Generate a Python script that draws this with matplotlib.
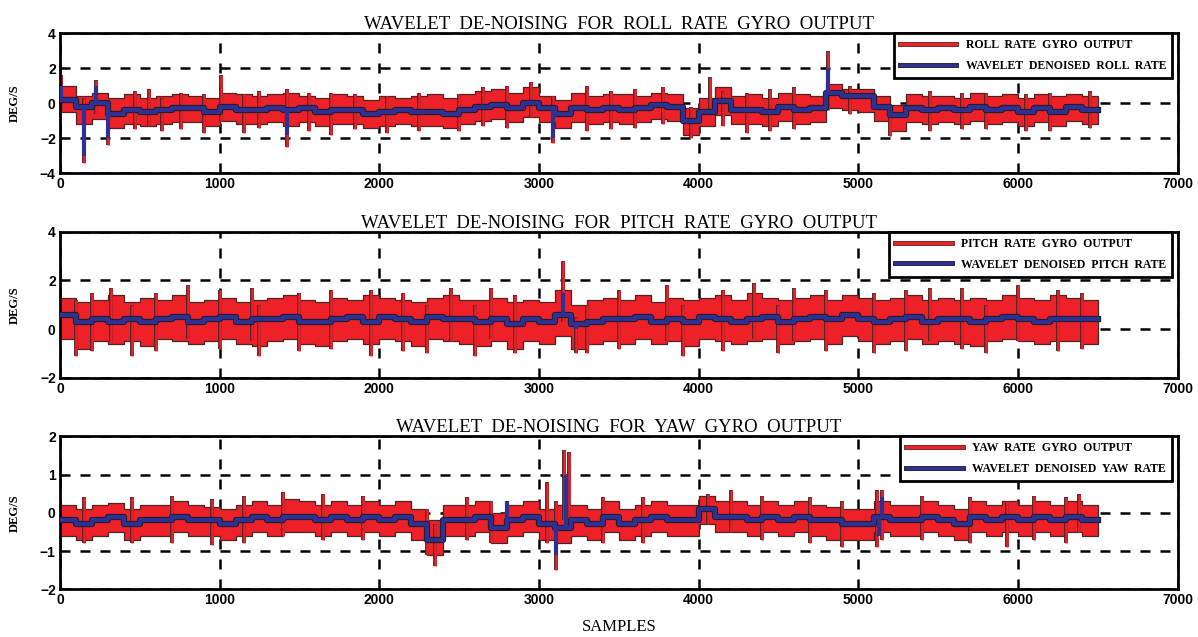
import numpy as np
import matplotlib
matplotlib.use('Agg')
import matplotlib.pyplot as plt
import matplotlib.patheffects as pe
from matplotlib.lines import Line2D

# samples are grouped in bins of 100 (deg/s)
samples = np.arange(0, 6500, 100)

roll_dn = [0.2, -0.2, 0.0, -0.6, -0.4, -0.5, -0.4, -0.3, -0.3, -0.5,
           -0.2, -0.4, -0.4, -0.3, -0.4, -0.3, -0.5, -0.4, -0.4, -0.6,
           -0.5, -0.4, -0.5, -0.5, -0.6, -0.4, -0.2, -0.1, -0.3, 0.0,
           -0.3, -0.6, -0.3, -0.4, -0.3, -0.4, -0.3, -0.1, -0.2, -1.0,
           -0.5, 0.1, -0.4, -0.4, -0.5, -0.2, -0.4, -0.3, 0.6, 0.4,
           0.4, -0.2, -0.7, -0.3, -0.4, -0.3, -0.4, -0.2, -0.4, -0.3,
           -0.5, -0.3, -0.5, -0.2, -0.4]
roll_hi = [1.0, 0.4, 0.6, 0.3, 0.5, 0.3, 0.4, 0.5, 0.4, 0.3,
           0.6, 0.5, 0.4, 0.5, 0.6, 0.4, 0.3, 0.5, 0.4, 0.2,
           0.4, 0.3, 0.4, 0.5, 0.3, 0.5, 0.7, 0.8, 0.6, 0.9,
           0.4, 0.2, 0.6, 0.4, 0.5, 0.5, 0.4, 0.6, 0.5, -0.3,
           0.3, 0.9, 0.4, 0.5, 0.3, 0.6, 0.5, 0.4, 1.1, 0.8,
           0.8, 0.4, -0.1, 0.5, 0.4, 0.4, 0.3, 0.6, 0.4, 0.5,
           0.3, 0.5, 0.4, 0.5, 0.4]
roll_lo = [-0.5, -1.2, -0.9, -1.4, -1.2, -1.3, -1.2, -1.1, -1.1, -1.3,
           -1.0, -1.2, -1.2, -1.1, -1.3, -1.1, -1.3, -1.2, -1.2, -1.4,
           -1.3, -1.2, -1.3, -1.3, -1.4, -1.2, -1.0, -0.9, -1.1, -0.8,
           -1.1, -1.4, -1.1, -1.2, -1.1, -1.2, -1.1, -0.9, -1.0, -1.8,
           -1.3, -0.7, -1.2, -1.2, -1.3, -1.0, -1.2, -1.1, -0.3, -0.4,
           -0.5, -1.0, -1.6, -1.1, -1.2, -1.1, -1.2, -1.0, -1.2, -1.1,
           -1.3, -1.1, -1.3, -1.0, -1.2]
roll_spk_x = [10, 150, 225, 300, 470, 560, 640, 760, 900, 1010,
              1150, 1250, 1420, 1560, 1700, 1850, 2050, 2250, 2500, 2650,
              2800, 2950, 3090, 3300, 3450, 3600, 3780, 3950, 4070, 4150,
              4300, 4450, 4600, 4810, 4950, 5200, 5450, 5650, 5800, 6050,
              6200, 6450]
roll_spk_lo = [-0.5, -3.4, -0.6, -2.4, -1.5, -1.3, -1.6, -1.5, -1.7, -1.0,
               -1.7, -1.4, -2.5, -1.6, -1.8, -1.5, -1.7, -1.6, -1.6, -1.3,
               -1.4, -0.8, -2.3, -1.6, -1.5, -1.4, -1.2, -2.0, -0.6, -1.3,
               -1.7, -1.6, -1.5, -0.4, -0.6, -1.9, -1.6, -1.5, -1.5, -1.6,
               -1.6, -1.4]
roll_spk_hi = [1.6, 0.3, 1.3, 0.2, 0.7, 0.8, 0.3, 0.6, 0.5, 1.6,
               0.5, 0.7, 0.8, 0.6, 0.6, 0.5, 0.4, 0.6, 0.5, 0.9,
               1.0, 1.2, 0.4, 1.0, 0.7, 0.8, 0.9, -0.2, 1.5, 0.7,
               0.6, 0.8, 0.9, 3.0, 1.0, -0.3, 0.7, 0.6, 0.6, 0.5,
               0.6, 0.7]
roll_dn_spk_x = [10, 150, 225, 300, 1420, 3090, 4810]
roll_dn_spk_y = [1.0, -3.0, 1.0, -2.0, -1.8, -2.0, 2.0]

pitch_dn = [0.6, 0.3, 0.4, 0.3, 0.4, 0.3, 0.4, 0.5, 0.3, 0.4,
            0.5, 0.3, 0.4, 0.4, 0.5, 0.3, 0.3, 0.4, 0.5, 0.3,
            0.5, 0.4, 0.3, 0.5, 0.4, 0.4, 0.3, 0.4, 0.2, 0.4,
            0.3, 0.6, 0.2, 0.3, 0.4, 0.4, 0.5, 0.3, 0.4, 0.3,
            0.5, 0.4, 0.3, 0.4, 0.5, 0.3, 0.4, 0.5, 0.4, 0.6,
            0.4, 0.3, 0.4, 0.5, 0.3, 0.4, 0.4, 0.3, 0.4, 0.5,
            0.4, 0.3, 0.4, 0.4, 0.4]
pitch_hi = [1.3, 1.1, 1.2, 1.4, 1.1, 1.3, 1.2, 1.4, 1.1, 1.2,
            1.3, 1.1, 1.2, 1.3, 1.4, 1.2, 1.1, 1.3, 1.2, 1.4,
            1.3, 1.2, 1.1, 1.3, 1.4, 1.2, 1.2, 1.3, 1.1, 1.2,
            1.1, 1.6, 1.0, 1.2, 1.3, 1.2, 1.4, 1.1, 1.3, 1.2,
            1.3, 1.4, 1.2, 1.5, 1.3, 1.2, 1.3, 1.4, 1.2, 1.4,
            1.3, 1.2, 1.3, 1.4, 1.2, 1.3, 1.2, 1.3, 1.2, 1.4,
            1.3, 1.2, 1.4, 1.3, 1.2]
pitch_lo = [-0.4, -0.8, -0.5, -0.6, -0.5, -0.7, -0.4, -0.5, -0.6, -0.5,
            -0.4, -0.6, -0.7, -0.5, -0.4, -0.6, -0.7, -0.5, -0.4, -0.6,
            -0.4, -0.5, -0.7, -0.4, -0.5, -0.6, -0.7, -0.5, -0.8, -0.5,
            -0.6, -0.3, -0.8, -0.6, -0.5, -0.6, -0.4, -0.6, -0.5, -0.7,
            -0.4, -0.5, -0.6, -0.5, -0.4, -0.6, -0.5, -0.4, -0.6, -0.3,
            -0.5, -0.6, -0.5, -0.4, -0.6, -0.5, -0.6, -0.7, -0.5, -0.4,
            -0.5, -0.6, -0.5, -0.5, -0.6]
pitch_spk_x = [100, 200, 320, 450, 600, 800, 1000, 1200, 1250, 1500,
               1700, 1950, 2150, 2300, 2450, 2600, 2700, 2850, 3150, 3230,
               3300, 3500, 3800, 3900, 4150, 4350, 4500, 4600, 4800, 5100,
               5300, 5450, 5650, 5800, 6000, 6250, 6400]
pitch_spk_lo = [-1.1, -0.9, -0.5, -1.1, -0.9, -0.4, -0.8, -0.5, -1.1, -0.9,
                -0.8, -1.1, -0.9, -1.0, -0.5, -1.1, -0.4, -1.0, 0.3, -1.0,
                -1.0, -0.8, -0.5, -1.1, -0.9, -0.4, -1.0, -0.5, -0.9, -1.0,
                -0.9, -0.5, -0.8, -1.0, -0.5, -0.9, -0.8]
pitch_spk_hi = [1.2, 1.5, 1.7, 1.0, 1.5, 1.8, 1.6, 1.7, 1.0, 1.5,
                1.6, 1.6, 1.5, 1.0, 1.7, 1.0, 1.7, 1.4, 2.8, 0.5,
                1.0, 1.6, 1.8, 1.0, 1.6, 1.9, 1.0, 1.7, 1.6, 1.5,
                1.6, 1.7, 1.7, 1.0, 1.8, 1.6, 1.5]
pitch_dn_spk_x = [3150, 3230]
pitch_dn_spk_y = [1.5, 0.0]

yaw_dn = [-0.2, -0.3, -0.2, -0.1, -0.3, -0.2, -0.2, -0.1, -0.2, -0.2,
          -0.3, -0.2, -0.1, -0.2, -0.1, -0.1, -0.2, -0.1, -0.2, -0.1,
          -0.2, -0.1, -0.3, -0.7, -0.2, -0.2, -0.1, -0.4, -0.2, -0.1,
          -0.3, -0.4, -0.2, -0.3, -0.1, -0.3, -0.2, -0.1, -0.2, -0.2,
          0.1, -0.1, -0.1, -0.2, -0.1, -0.2, -0.1, -0.2, -0.2, -0.3,
          -0.3, -0.1, -0.2, -0.2, -0.1, -0.2, -0.3, -0.1, -0.2, -0.1,
          -0.2, -0.1, -0.2, -0.1, -0.2]
yaw_hi = [0.2, 0.1, 0.2, 0.25, 0.1, 0.2, 0.2, 0.3, 0.2, 0.15,
          0.1, 0.2, 0.3, 0.2, 0.35, 0.3, 0.2, 0.3, 0.2, 0.3,
          0.2, 0.3, 0.1, -0.2, 0.2, 0.2, 0.3, 0.0, 0.2, 0.3,
          0.1, 0.2, 0.2, 0.1, 0.3, 0.1, 0.2, 0.3, 0.2, 0.2,
          0.45, 0.3, 0.3, 0.2, 0.3, 0.2, 0.3, 0.2, 0.15, 0.1,
          0.1, 0.3, 0.2, 0.2, 0.3, 0.2, 0.1, 0.3, 0.2, 0.3,
          0.2, 0.3, 0.2, 0.3, 0.2]
yaw_lo = [-0.6, -0.7, -0.6, -0.5, -0.7, -0.6, -0.6, -0.5, -0.6, -0.6,
          -0.7, -0.6, -0.5, -0.6, -0.5, -0.5, -0.6, -0.5, -0.6, -0.5,
          -0.6, -0.5, -0.7, -1.1, -0.6, -0.6, -0.5, -0.8, -0.6, -0.5,
          -0.7, -0.8, -0.6, -0.7, -0.5, -0.7, -0.6, -0.5, -0.6, -0.6,
          -0.3, -0.5, -0.5, -0.6, -0.5, -0.6, -0.5, -0.6, -0.7, -0.7,
          -0.7, -0.5, -0.6, -0.6, -0.5, -0.6, -0.7, -0.5, -0.6, -0.5,
          -0.6, -0.5, -0.6, -0.5, -0.6]
yaw_spk_x = [150, 450, 700, 950, 1150, 1400, 1650, 1900, 2300, 2350,
             2550, 2700, 3050, 3110, 3160, 3190, 3400, 3650, 4060, 4200,
             4400, 4700, 4900, 5120, 5150, 5400, 5700, 5930, 6100, 6300,
             6380]
yaw_spk_lo = [-0.8, -0.8, -0.8, -0.85, -0.8, -0.6, -0.7, -0.7, -1.1, -1.4,
              -0.7, -0.8, -0.8, -1.5, -0.2, -0.3, -0.8, -0.8, -0.3, -0.5,
              -0.7, -0.8, -0.9, -0.9, -0.7, -0.7, -0.8, -0.9, -0.7, -0.8,
              -0.5]
yaw_spk_hi = [0.4, 0.4, 0.45, 0.35, 0.45, 0.55, 0.5, 0.45, 0.1, -0.3,
              0.4, 0.3, 0.8, 0.3, 1.65, 1.6, 0.4, 0.4, 0.5, 0.6,
              0.45, 0.4, 0.3, 0.6, 0.6, 0.45, 0.4, 0.3, 0.45, 0.4,
              0.5]
yaw_dn_spk_x = [2800, 3110, 3170, 5130, 5150]
yaw_dn_spk_y = [0.3, -1.1, 1.0, -0.6, 0.4]

titles = ['WAVELET  DE-NOISING  FOR  ROLL  RATE  GYRO  OUTPUT',
          'WAVELET  DE-NOISING  FOR  PITCH  RATE  GYRO  OUTPUT',
          'WAVELET  DE-NOISING  FOR  YAW  GYRO  OUTPUT']
leg_labels = [['ROLL  RATE  GYRO  OUTPUT', 'WAVELET  DENOISED  ROLL  RATE'],
              ['PITCH  RATE  GYRO  OUTPUT', 'WAVELET  DENOISED  PITCH  RATE'],
              ['YAW  RATE  GYRO  OUTPUT', 'WAVELET  DENOISED  YAW  RATE']]
ylims = [(-4, 4), (-2, 4), (-2, 2)]
yticks = [[-4, -2, 0, 2, 4], [-2, 0, 2, 4], [-2, -1, 0, 1, 2]]
xticks = [0, 1000, 2000, 3000, 4000, 5000, 6000, 7000]

panels = [
    (roll_dn, roll_hi, roll_lo, roll_spk_x, roll_spk_lo, roll_spk_hi, roll_dn_spk_x, roll_dn_spk_y),
    (pitch_dn, pitch_hi, pitch_lo, pitch_spk_x, pitch_spk_lo, pitch_spk_hi, pitch_dn_spk_x, pitch_dn_spk_y),
    (yaw_dn, yaw_hi, yaw_lo, yaw_spk_x, yaw_spk_lo, yaw_spk_hi, yaw_dn_spk_x, yaw_dn_spk_y),
]

RED = '#ee2028'
BLUE = '#2e3192'
EDGE = '#4a2626'
blue_edge = [pe.Stroke(linewidth=4.5, foreground='#1a1a1a'), pe.Normal()]
red_edge = [pe.Stroke(linewidth=2.8, foreground=EDGE), pe.Normal()]

fig = plt.figure(figsize=(11.98, 6.37), dpi=100, facecolor='w')
boxes = [[0.050, 0.728, 0.933, 0.220],
         [0.050, 0.407, 0.933, 0.229],
         [0.050, 0.075, 0.933, 0.240]]

for i, (dn, hi, lo, sx, slo, shi, bx, by) in enumerate(panels):
    ax = fig.add_axes(boxes[i])
    xs = np.append(samples, 6500)
    hi_s = np.append(hi, hi[-1])
    lo_s = np.append(lo, lo[-1])
    dn_s = np.append(dn, dn[-1])

    # raw gyro output (red band with dark outline) + isolated spikes
    ax.fill_between(xs, lo_s, hi_s, step='post', facecolor=RED,
                    edgecolor=EDGE, linewidth=0.9, zorder=2)
    ax.vlines(sx, slo, shi, color=RED, linewidth=1.8, zorder=2.2,
              path_effects=red_edge)
    # wavelet denoised (blue stepped line)
    ax.plot(xs, dn_s, drawstyle='steps-post', color=BLUE, linewidth=3.2,
            zorder=3, path_effects=blue_edge)
    base = [dn[int(x) // 100] for x in bx]
    ax.vlines(bx, base, by, color=BLUE, linewidth=3, zorder=3.2)

    ax.set_xlim(0, 7000)
    ax.set_ylim(*ylims[i])
    ax.set_xticks(xticks)
    ax.set_yticks(yticks[i])
    ax.tick_params(length=0, pad=3, labelsize=10)
    for lab in ax.get_xticklabels() + ax.get_yticklabels():
        lab.set_fontweight('bold')
        lab.set_family('Liberation Sans')
    ax.grid(True, color='k', linestyle=(0, (4, 4)), linewidth=1.8, zorder=0)
    ax.set_axisbelow(True)
    for s in ax.spines.values():
        s.set_linewidth(2)
    ax.set_title(titles[i], family='Liberation Serif', fontsize=13.5, pad=3)
    ax.set_ylabel('DEG/S', family='Liberation Serif', fontweight='bold',
                  fontsize=9, labelpad=14)

    handles = [Line2D([], [], color=RED, linewidth=2.5,
                      path_effects=[pe.Stroke(linewidth=3.5, foreground=EDGE), pe.Normal()]),
               Line2D([], [], color=BLUE, linewidth=2.5,
                      path_effects=[pe.Stroke(linewidth=3.5, foreground='#1a1a1a'), pe.Normal()])]
    leg = ax.legend(handles, leg_labels[i], loc='upper right',
                    bbox_to_anchor=(0.995, 1.0), borderaxespad=0,
                    prop={'family': 'Liberation Serif', 'weight': 'bold', 'size': 8.5},
                    handlelength=4.8, fancybox=False, framealpha=1,
                    edgecolor='k', labelspacing=0.75, borderpad=0.5)
    leg.get_frame().set_linewidth(2)
    leg.set_zorder(5)
    if i == 2:
        ax.set_xlabel('SAMPLES', family='Liberation Serif', fontsize=12, labelpad=8)

plt.savefig('out.png', dpi=100)
